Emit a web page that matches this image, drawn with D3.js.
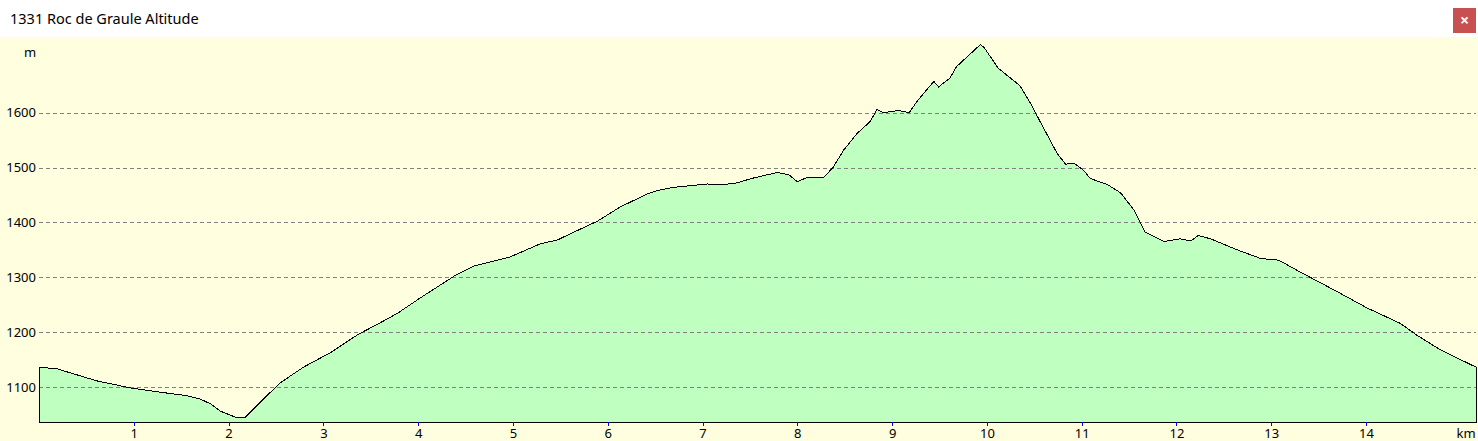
<!DOCTYPE html>
<html>
<head>
<meta charset="utf-8">
<script src="https://cdn.jsdelivr.net/npm/d3@7/dist/d3.min.js"></script>
<style>
  html, body { margin: 0; padding: 0; background: #ffffff; }
  svg { display: block; }
  text { font-family: "Noto Sans", "Open Sans", sans-serif; }
</style>
</head>
<body>
<svg id="chart" width="1478" height="441"></svg>
<script>
// ---- data ----
const title = "1331 Roc de Graule Altitude";
const distanceKm = [0, 0.17, 0.61, 0.97, 1.25, 1.56, 1.70, 1.81, 1.91, 2.07, 2.18, 2.41, 2.55, 2.79, 3.08, 3.36, 3.60, 3.78, 4.02, 4.38, 4.58, 4.97, 5.29, 5.47, 5.64, 5.89, 6.13, 6.42, 6.52, 6.70, 7.05, 7.22, 7.36, 7.54, 7.79, 7.91, 8.00, 8.09, 8.28, 8.38, 8.49, 8.63, 8.77, 8.84, 8.91, 9.07, 9.18, 9.26, 9.44, 9.49, 9.61, 9.68, 9.83, 9.93, 9.97, 10.12, 10.25, 10.35, 10.46, 10.53, 10.74, 10.83, 10.92, 11.02, 11.09, 11.27, 11.41, 11.55, 11.67, 11.78, 11.87, 12.04, 12.15, 12.23, 12.36, 12.64, 12.89, 13.08, 13.31, 13.66, 14.01, 14.36, 14.53, 14.78, 14.97, 15.16];
const altitudeM = [1135, 1134, 1111, 1098, 1091, 1084, 1078, 1069, 1056, 1045, 1045, 1085, 1108, 1136, 1163, 1195, 1217, 1234, 1262, 1302, 1320, 1337, 1361, 1368, 1382, 1402, 1428, 1452, 1458, 1464, 1470, 1469, 1472, 1481, 1491, 1487, 1474, 1481, 1482, 1501, 1532, 1562, 1584, 1606, 1600, 1604, 1600, 1620, 1657, 1647, 1663, 1684, 1708, 1724, 1719, 1681, 1663, 1649, 1617, 1594, 1526, 1506, 1508, 1495, 1480, 1469, 1454, 1423, 1382, 1373, 1365, 1370, 1366, 1376, 1370, 1350, 1334, 1331, 1309, 1277, 1244, 1216, 1195, 1168, 1152, 1136];
const xTicks = [1, 2, 3, 4, 5, 6, 7, 8, 9, 10, 11, 12, 13, 14];
const yTicks = [1100, 1200, 1300, 1400, 1500, 1600];
const xUnit = "km";
const yUnit = "m";

(function () {
const points = distanceKm.map((d, i) => ({ d, a: altitudeM[i] }));

const svg = d3.select("#chart");
const W = 1478, H = 441;
const mLeft = 39, mRight = 1476, mTop = 37, mBottom = 422;

// background
svg.append("rect").attr("x", 0).attr("y", 0).attr("width", W).attr("height", H).attr("fill", "#ffffff");
svg.append("rect").attr("x", 0).attr("y", mTop).attr("width", W).attr("height", H - mTop).attr("fill", "#ffffe0");

// title bar
svg.append("text").attr("x", 10).attr("y", 24).attr("font-size", 14.5).attr("fill", "#000").text(title);
svg.append("rect").attr("x", 1453).attr("y", 8).attr("width", 23).attr("height", 25).attr("fill", "#c75050");
svg.append("text").attr("x", 1464.5).attr("y", 26).attr("text-anchor", "middle").attr("font-size", 16)
  .attr("font-weight", "bold").attr("fill", "#fff").text("×");

// scales
const x = d3.scaleLinear().domain([0, d3.max(distanceKm)]).range([mLeft, mRight]);
const y = d3.scaleLinear().domain([1036, 1738]).range([mBottom, mTop]);

// area fill
const area = d3.area().x(p => x(p.d)).y0(y(1036)).y1(p => y(p.a));
svg.append("path").datum(points).attr("d", area).attr("fill", "#bfffbf").attr("stroke", "none");

// grid
const grid = svg.append("g").attr("transform", `translate(${mLeft},0)`)
  .call(d3.axisLeft(y).tickValues(yTicks).tickSize(-(mRight - mLeft)).tickFormat(""));
grid.select(".domain").remove();
grid.selectAll("line").attr("stroke", "#808080").attr("stroke-dasharray", "4,3").attr("shape-rendering", "crispEdges");

// outline
svg.append("path").datum(points).attr("d", area).attr("fill", "none").attr("stroke", "#000")
  .attr("stroke-width", 1).attr("shape-rendering", "crispEdges");

// y axis labels
const yAx = svg.append("g").attr("transform", `translate(${mLeft},0)`)
  .call(d3.axisLeft(y).tickValues(yTicks).tickSize(0).tickPadding(3).tickFormat(d3.format("d")));
yAx.select(".domain").remove();
yAx.selectAll("text").attr("font-size", 13).attr("fill", "#000").style("font-family", "'Noto Sans', sans-serif");

// x axis
const xAx = svg.append("g").attr("transform", `translate(0,${mBottom})`)
  .call(d3.axisBottom(x).tickValues(xTicks).tickSize(4).tickPadding(3).tickFormat(d3.format("d")));
xAx.select(".domain").remove();
xAx.selectAll("line").attr("stroke", "#0000ff").attr("shape-rendering", "crispEdges");
xAx.selectAll("text").attr("font-size", 13).attr("fill", "#000").style("font-family", "'Noto Sans', sans-serif");

// unit labels
svg.append("text").attr("x", 30).attr("y", 57).attr("text-anchor", "middle").attr("font-size", 13).text(yUnit);
svg.append("text").attr("x", 1466).attr("y", 438).attr("text-anchor", "middle").attr("font-size", 13).text(xUnit);
})();
</script>
</body>
</html>
